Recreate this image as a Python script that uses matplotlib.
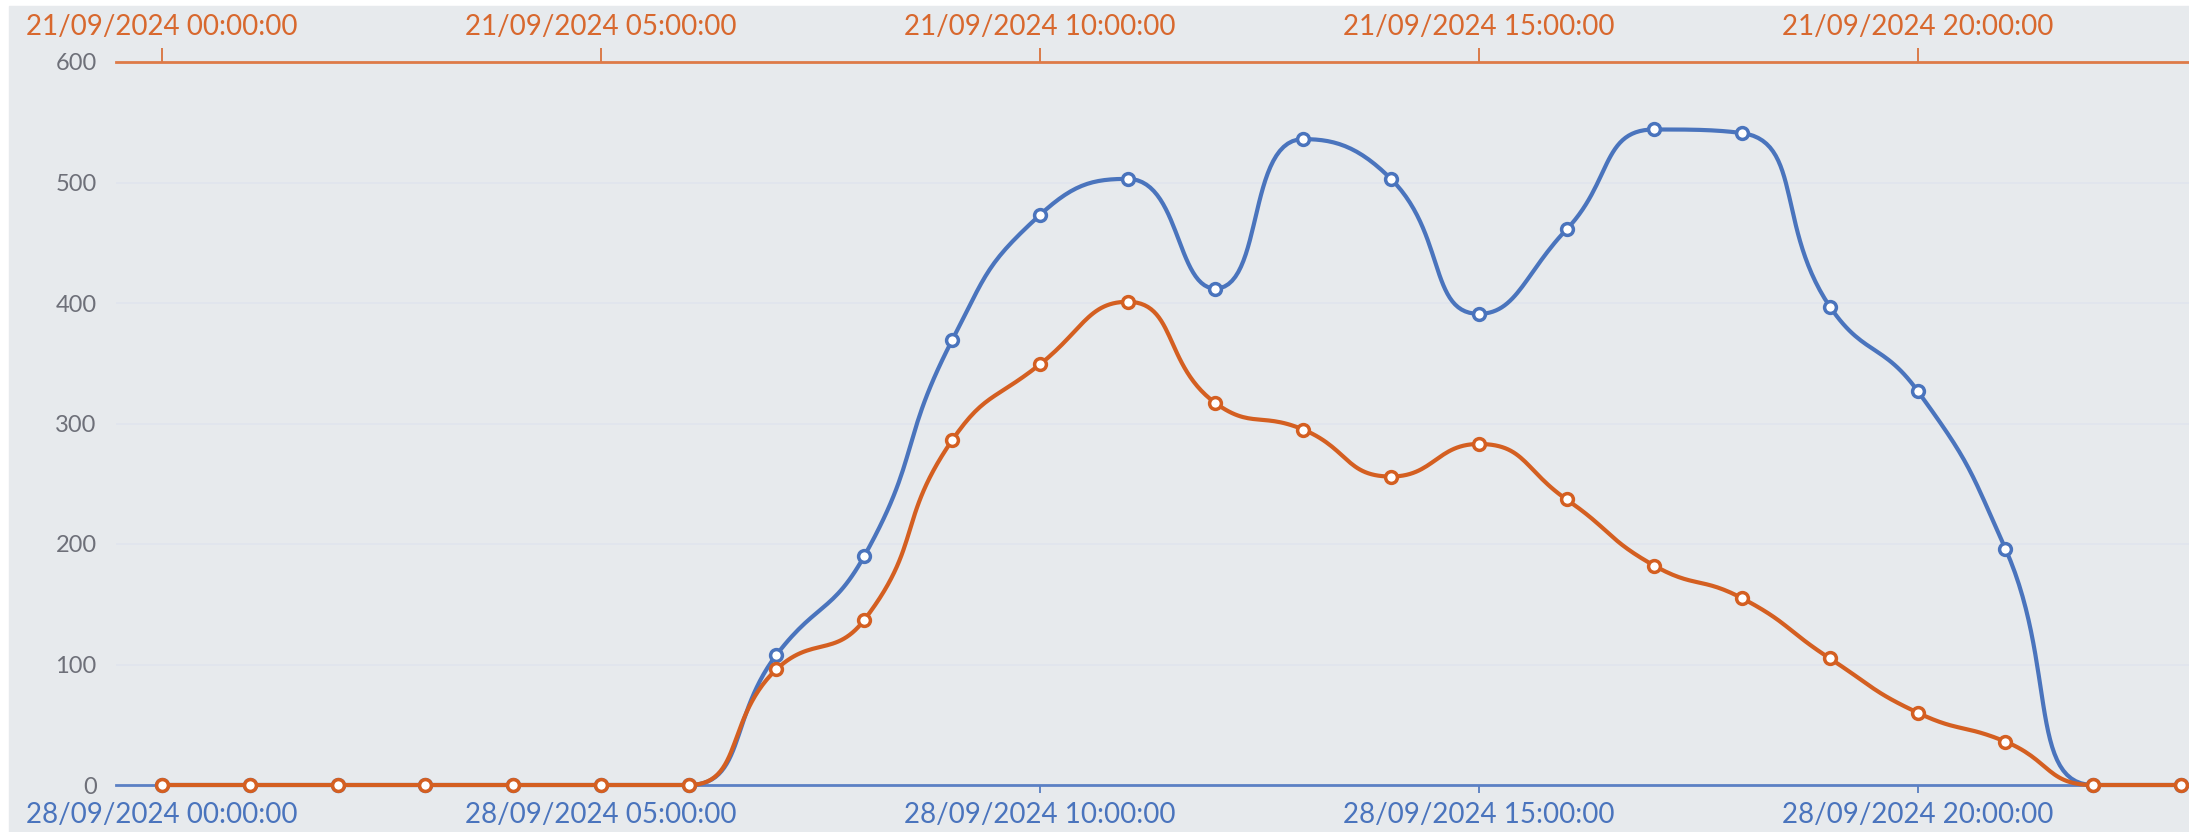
import matplotlib
matplotlib.use('Agg')
import matplotlib.pyplot as plt
from matplotlib.patches import Rectangle
import numpy as np

plt.rcParams['font.family'] = ['Lato', 'DejaVu Sans']

# hourly values
hours = list(range(24))
week_now = [0, 0, 0, 0, 0, 0, 0, 108, 190, 369, 473, 503, 412, 536, 503, 391,
            461, 544, 541, 397, 327, 196, 0, 0]
week_before = [0, 0, 0, 0, 0, 0, 0, 96, 137, 286, 349, 401, 317, 295, 256, 283,
               237, 182, 155, 105, 60, 36, 0, 0]
tick_hours = [0, 5, 10, 15, 20]
bottom_labels = ['28/09/2024 %02d:00:00' % h for h in tick_hours]
top_labels = ['21/09/2024 %02d:00:00' % h for h in tick_hours]

BLUE = '#4a74bd'
ORANGE = '#d45f21'
BG = '#e7eaed'
W, H = 2189, 832


def smooth_path(ax, xs, ys, smooth=0.5, n=30):
    # echarts-like bezier smoothing, done in pixel space
    pts = ax.transData.transform(np.column_stack([xs, ys]))
    out = [pts[0]]
    cp0 = pts[0].copy()
    for i in range(1, len(pts)):
        px, py = pts[i - 1]
        x, y = pts[i]
        if i == len(pts) - 1:
            cp1 = np.array([x, y])
            nxt_cp = None
        else:
            nx, ny = pts[i + 1]
            vx, vy = nx - px, ny - py
            lp = np.hypot(x - px, y - py)
            ln = np.hypot(nx - x, ny - y)
            r = ln / (ln + lp)
            ncx = x + vx * smooth * r
            ncy = y + vy * smooth * r
            ncx = max(min(ncx, max(nx, x)), min(nx, x))
            ncy = max(min(ncy, max(ny, y)), min(ny, y))
            vx, vy = ncx - x, ncy - y
            c1x = x - vx * lp / ln
            c1y = y - vy * lp / ln
            c1x = max(min(c1x, max(px, x)), min(px, x))
            c1y = max(min(c1y, max(py, y)), min(py, y))
            vx, vy = x - c1x, y - c1y
            ncx = x + vx * ln / lp
            ncy = y + vy * ln / lp
            cp1 = np.array([c1x, c1y])
            nxt_cp = np.array([ncx, ncy])
        t = np.linspace(0, 1, n)[1:, None]
        p0 = np.array([px, py])
        p3 = np.array([x, y])
        seg = ((1 - t) ** 3) * p0 + 3 * ((1 - t) ** 2) * t * cp0 \
            + 3 * (1 - t) * t ** 2 * cp1 + t ** 3 * p3
        out.extend(seg)
        if nxt_cp is not None:
            cp0 = nxt_cp
    out = ax.transData.inverted().transform(np.array(out))
    return out[:, 0], out[:, 1]


fig = plt.figure(figsize=(W / 100, H / 100), dpi=100)
fig.patches.append(Rectangle((9 / W, 0), 1 - 9 / W, 1 - 6 / H,
                             transform=fig.transFigure, color=BG, zorder=-10))

left, right, top, bottom = 116, 2189, 62, 785
ax = fig.add_axes([left / W, (H - bottom) / H, (right - left) / W, (bottom - top) / H])
ax.set_facecolor('none')
ax.set_xlim(-0.524, 23.091)
ax.set_ylim(0, 600)

ax2 = ax.twiny()
ax2.set_xlim(ax.get_xlim())
ax2.set_facecolor('none')

ax.set_yticks(range(0, 601, 100))
ax.tick_params(axis='y', length=0, pad=14, labelsize=17, labelcolor='#6e7079')
ax.grid(axis='y', color='#e0e5ee', linewidth=1.2)
ax.set_axisbelow(True)

ax.set_xticks(tick_hours)
ax.set_xticklabels(bottom_labels)
ax.tick_params(axis='x', colors=BLUE, labelsize=20, length=6, width=1.2, pad=6)
ax2.set_xticks(tick_hours)
ax2.set_xticklabels(top_labels)
ax2.tick_params(axis='x', colors='#d8682e', labelsize=20, length=10, width=1.2, pad=6)

for a in (ax, ax2):
    for s in ('left', 'right'):
        a.spines[s].set_visible(False)
ax.spines['top'].set_visible(False)
ax.spines['bottom'].set_color('#5b80c4')
ax.spines['bottom'].set_linewidth(2)
ax2.spines['bottom'].set_visible(False)
ax2.spines['top'].set_color('#de7a48')
ax2.spines['top'].set_linewidth(2)

fig.canvas.draw()

sx, sy = smooth_path(ax, hours, week_now)
ax.plot(sx, sy, color=BLUE, lw=3.0, solid_capstyle='round', zorder=3, clip_on=False)
ax.plot(hours, week_now, 'o', ms=8.5, mfc='white', mec=BLUE, mew=2.5, zorder=4, clip_on=False)

ox, oy = smooth_path(ax2, hours, week_before)
ax2.plot(ox, oy, color=ORANGE, lw=3.0, solid_capstyle='round', zorder=3, clip_on=False)
ax2.plot(hours, week_before, 'o', ms=8.5, mfc='white', mec=ORANGE, mew=2.5, zorder=4, clip_on=False)

fig.savefig('out.png', dpi=100)
